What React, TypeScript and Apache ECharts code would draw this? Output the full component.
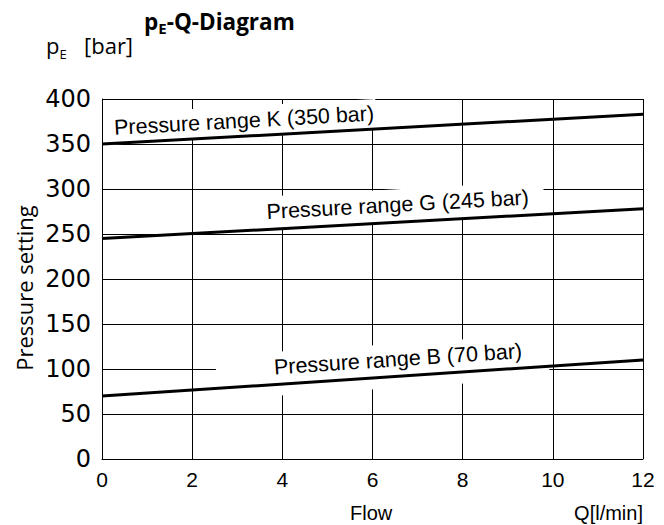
import { useEffect, useRef } from 'react';
import * as echarts from 'echarts';

// ---- data ----
const flow = [0, 12];
const rangeK = [350, 383];
const rangeG = [245, 278];
const rangeB = [70, 110];
const lineValues = [rangeK, rangeG, rangeB];
const seriesNames = ['Pressure range K (350 bar)', 'Pressure range G (245 bar)', 'Pressure range B (70 bar)'];

// ---- label placement (x position in data units, offset above line in px, white box padding [t, r, b, l]) ----
const labelAt = [3.17, 6.58, 6.59];
const labelOffset = [15.5, 17.5, 17];
const labelPad = [
  [4, 2, 6, 6],
  [5, 15, 6, 4],
  [5, 26, 18, 58],
];

const LABEL_FONT = '21.5px "Liberation Sans", Arial, sans-serif';
const LABEL_H = 21;

let ctx: CanvasRenderingContext2D | null = null;
function measure(text: string, font: string): number {
  if (!ctx) ctx = document.createElement('canvas').getContext('2d');
  ctx!.font = font;
  return ctx!.measureText(text).width;
}

function txt(text: string, x: number, y: number, font: string, align = 'left', rotation = 0): any {
  return {
    type: 'text',
    x,
    y,
    rotation,
    z: 10,
    silent: true,
    style: {
      text,
      font,
      fill: '#000',
      align,
      textAlign: align,
      verticalAlign: 'middle',
      textVerticalAlign: 'middle',
    },
  };
}

export default function App() {
  const ref = useRef<HTMLDivElement>(null);
  useEffect(() => {
    const el = ref.current!;
    const chart = echarts.init(el, null, { renderer: 'svg' });
    const axisLineStyle = { color: '#000', width: 1 };
    chart.setOption({
      animation: false,
      backgroundColor: '#fff',
      grid: { left: 102, right: 21, top: 99, bottom: 66, containLabel: false, outerBoundsMode: 'none' },
      xAxis: {
        type: 'value',
        min: 0,
        max: 12,
        interval: 2,
        axisLine: { show: true, lineStyle: axisLineStyle },
        axisTick: { show: false },
        splitLine: { show: true, lineStyle: axisLineStyle },
        axisLabel: {
          color: '#000',
          fontFamily: '"Liberation Sans", Arial, sans-serif',
          fontSize: 21,
          margin: 10,
          showMinLabel: true,
          showMaxLabel: true,
        },
      },
      yAxis: {
        type: 'value',
        min: 0,
        max: 400,
        interval: 50,
        axisLine: { show: true, lineStyle: axisLineStyle },
        axisTick: { show: false },
        splitLine: { show: true, lineStyle: axisLineStyle },
        axisLabel: {
          color: '#000',
          fontFamily: '"DejaVu Sans", sans-serif',
          fontSize: 24,
          margin: 11,
          showMinLabel: true,
          showMaxLabel: true,
        },
      },
      series: lineValues.map((vals, i) => ({
        type: 'line',
        name: seriesNames[i],
        data: flow.map((x, j) => [x, vals[j]]),
        symbol: 'none',
        silent: true,
        z: 2,
        lineStyle: { color: '#000', width: 3 },
      })),
    });

    const graphics: any[] = [];
    lineValues.forEach((vals, i) => {
      const p0 = chart.convertToPixel({ gridIndex: 0 }, [flow[0], vals[0]]) as number[];
      const p1 = chart.convertToPixel({ gridIndex: 0 }, [flow[1], vals[1]]) as number[];
      const a = Math.atan2(p0[1] - p1[1], p1[0] - p0[0]);
      const xv = labelAt[i];
      const yv = vals[0] + ((vals[1] - vals[0]) * (xv - flow[0])) / (flow[1] - flow[0]);
      const c = chart.convertToPixel({ gridIndex: 0 }, [xv, yv]) as number[];
      const off = labelOffset[i];
      const cx = c[0] - off * Math.sin(a);
      const cy = c[1] - off * Math.cos(a);
      const w = measure(seriesNames[i], LABEL_FONT);
      const [pt, pr, pb, pl] = labelPad[i];
      graphics.push({
        type: 'rect',
        x: cx,
        y: cy,
        rotation: a,
        z: 1,
        silent: true,
        shape: { x: -w / 2 - pl, y: -LABEL_H / 2 - pt, width: w + pl + pr, height: LABEL_H + pt + pb },
        style: { fill: '#fff' },
      });
      graphics.push(txt(seriesNames[i], cx, cy, LABEL_FONT, 'center', a));
    });

    // title pE-Q-Diagram
    const tBold = 'bold 22.5px "Open Sans", sans-serif';
    const tSub = 'bold 15px "Open Sans", sans-serif';
    let tx = 144;
    graphics.push(txt('p', tx, 21, tBold));
    tx += measure('p', tBold);
    graphics.push(txt('E', tx, 28, tSub));
    tx += measure('E', tSub);
    graphics.push(txt('-Q-Diagram', tx, 21, tBold));

    // y unit pE [bar]
    const uFont = '22px "Open Sans", sans-serif';
    const uSub = '13px "Open Sans", sans-serif';
    graphics.push(txt('p', 46, 45, uFont));
    const px = 46 + measure('p', uFont);
    graphics.push(txt('E', px, 54, uSub));
    graphics.push(txt('[bar]', 84, 45, uFont));

    // y axis title
    graphics.push(txt('Pressure setting', 24, 288, '22px "Open Sans", sans-serif', 'center', Math.PI / 2));

    // x axis titles
    const xFont = '20px "Liberation Sans", Arial, sans-serif';
    graphics.push(txt('Flow', 350, 512.5, xFont, 'left'));
    graphics.push(txt('Q[l/min]', 643, 512.5, xFont, 'right'));

    chart.setOption({ graphic: { elements: graphics } });
    return () => chart.dispose();
  }, []);
  return <div ref={ref} style={{ position: 'absolute', left: 0, top: 0, width: 664, height: 525 }} />;
}
